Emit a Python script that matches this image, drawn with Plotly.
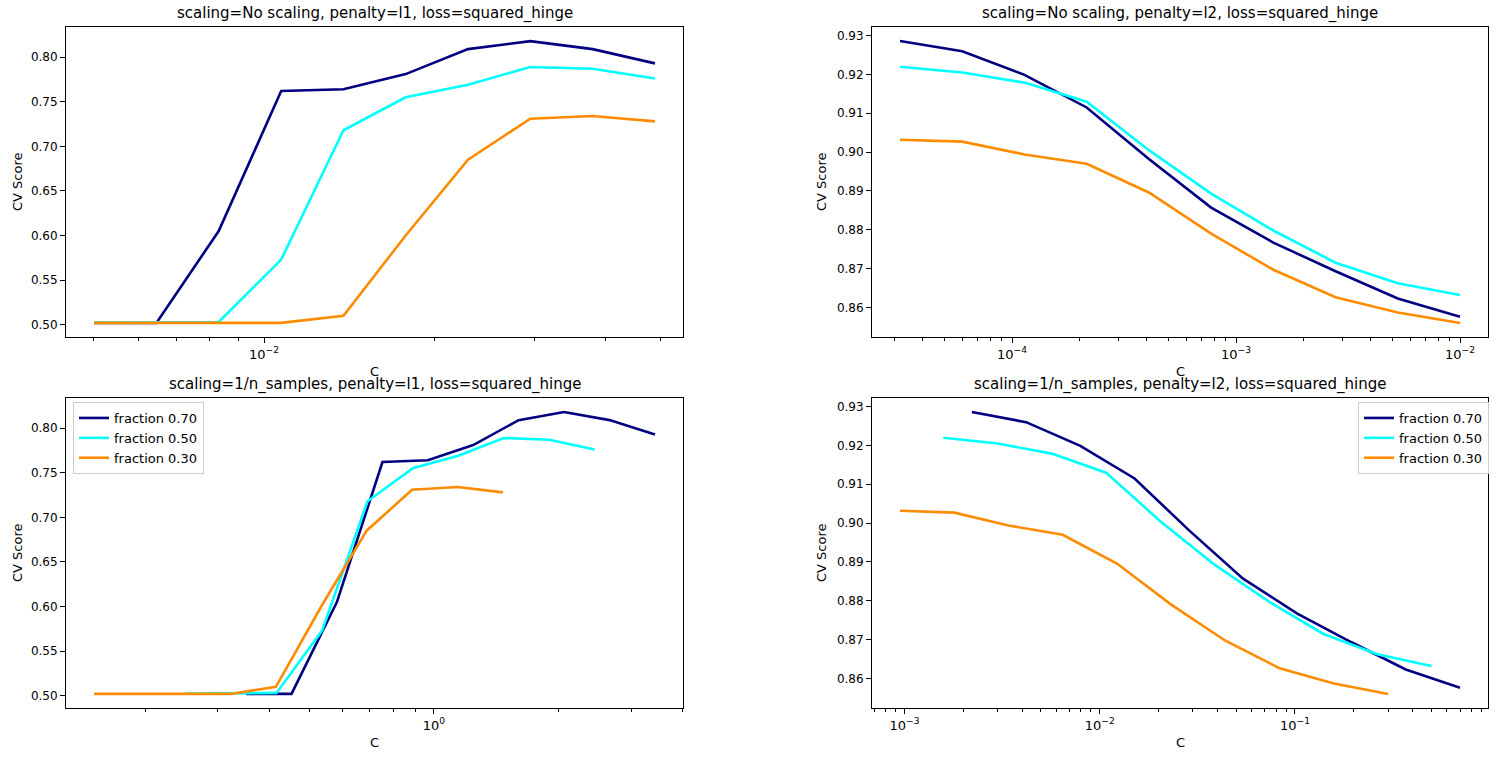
import math
import plotly.graph_objects as go

# ---- data ----
C_l1 = [0.005012, 0.006458, 0.008318, 0.010723, 0.013811, 0.017783, 0.022909, 0.029512, 0.038019, 0.048978]
C_l2 = [3.1623e-5, 5.9948e-5, 1.1365e-4, 2.1544e-4, 4.0842e-4, 7.7426e-4, 1.4678e-3, 2.7826e-3, 5.2749e-3, 1.0e-2]
fractions = [0.70, 0.50, 0.30]
n_samples = 100

score_l1_070 = [0.502, 0.502, 0.605, 0.762, 0.764, 0.781, 0.809, 0.818, 0.809, 0.793]
score_l1_050 = [0.5025, 0.5025, 0.503, 0.573, 0.718, 0.755, 0.769, 0.789, 0.787, 0.776]
score_l1_030 = [0.502, 0.502, 0.502, 0.502, 0.510, 0.600, 0.685, 0.731, 0.734, 0.728]

score_l2_070 = [0.9286, 0.9260, 0.9199, 0.9115, 0.8982, 0.8857, 0.8767, 0.8693, 0.8623, 0.8576]
score_l2_050 = [0.9220, 0.9205, 0.9179, 0.9130, 0.9005, 0.8893, 0.8798, 0.8715, 0.8662, 0.8632]
score_l2_030 = [0.9032, 0.9027, 0.8994, 0.8970, 0.8896, 0.8790, 0.8697, 0.8626, 0.8587, 0.8560]

colors = ["#000080", "#00ffff", "#ff8c00"]
labels = ["fraction 0.70", "fraction 0.50", "fraction 0.30"]

panels = [
    # (C list, scores, scaled?, penalty, row, col)
    (C_l1, [score_l1_070, score_l1_050, score_l1_030], False, "l1", 0, 0),
    (C_l2, [score_l2_070, score_l2_050, score_l2_030], False, "l2", 0, 1),
    (C_l1, [score_l1_070, score_l1_050, score_l1_030], True, "l1", 1, 0),
    (C_l2, [score_l2_070, score_l2_050, score_l2_030], True, "l2", 1, 1),
]

W, H = 1502, 757
xdom = [[66 / W, 683 / W], [872 / W, 1488 / W]]
ydom = [[1 - 337 / H, 1 - 27 / H], [1 - 708 / H, 1 - 398 / H]]

FONT = "DejaVu Sans"
fig = go.Figure()
annotations = []


def sup(n):
    return "10<sup>" + ("\u2212" + str(-n) if n < 0 else str(n)) + "</sup>"


for i, (Cs, scores, scaled, pen, r, c) in enumerate(panels):
    ax = "" if i == 0 else str(i + 1)
    xa, ya = "x" + ax, "y" + ax
    allx, ally = [], []
    for k, (frac, sc) in enumerate(zip(fractions, scores)):
        scale = n_samples * frac if scaled else 1.0
        xs = [v * scale for v in Cs]
        allx += xs
        ally += sc
        legend = None
        show = False
        if r == 1:
            show = True
            legend = "legend" if c == 0 else "legend2"
        tr = go.Scatter(x=xs, y=sc, mode="lines", name=labels[k],
                        line=dict(color=colors[k], width=2.6),
                        showlegend=show, xaxis=xa, yaxis=ya)
        if legend:
            tr.legend = legend
        fig.add_trace(tr)
    lx0, lx1 = math.log10(min(allx)), math.log10(max(allx))
    m = (lx1 - lx0) * 0.05
    xr = [lx0 - m, lx1 + m]
    y0, y1 = min(ally), max(ally)
    my = (y1 - y0) * 0.05
    yr = [y0 - my, y1 + my]
    majors, minors = [], []
    for p in range(math.floor(xr[0]) - 1, math.ceil(xr[1]) + 1):
        if xr[0] <= p <= xr[1]:
            majors.append(10.0 ** p)
        for kk in range(2, 10):
            v = kk * 10.0 ** p
            if xr[0] <= math.log10(v) <= xr[1]:
                minors.append(v)
    xaxis = dict(domain=xdom[c], anchor=ya, type="log", range=xr,
                 tickmode="array", tickvals=majors,
                 ticktext=[sup(round(math.log10(v))) for v in majors],
                 ticks="outside", ticklen=5, tickwidth=1, tickcolor="black",
                 minor=dict(tickvals=minors, ticks="outside", ticklen=3,
                            tickwidth=0.8, tickcolor="black", showgrid=False),
                 showgrid=False, zeroline=False, showline=True, mirror=True,
                 linecolor="black", linewidth=1,
                 tickfont=dict(family=FONT, size=13, color="black"))
    if pen == "l1":
        yt = [0.50, 0.55, 0.60, 0.65, 0.70, 0.75, 0.80]
    else:
        yt = [0.86, 0.87, 0.88, 0.89, 0.90, 0.91, 0.92, 0.93]
    yaxis = dict(domain=ydom[r], anchor=xa, range=yr, tickmode="array",
                 tickvals=yt, ticktext=["%.2f" % v for v in yt],
                 ticks="outside", ticklen=5, tickwidth=1, tickcolor="black",
                 showgrid=False, zeroline=False, showline=True, mirror=True,
                 linecolor="black", linewidth=1,
                 tickfont=dict(family=FONT, size=12, color="black"))
    fig.update_layout({"xaxis" + ax: xaxis, "yaxis" + ax: yaxis})

    cx = (xdom[c][0] + xdom[c][1]) / 2
    scaling = "1/n_samples" if scaled else "No scaling"
    annotations.append(dict(text=f"scaling={scaling}, penalty={pen}, loss=squared_hinge",
                            x=cx, y=ydom[r][1], xref="paper", yref="paper",
                            xanchor="center", yanchor="bottom", yshift=2, showarrow=False,
                            font=dict(family=FONT, size=15, color="black")))
    annotations.append(dict(text="C", x=cx, y=ydom[r][0], xref="paper", yref="paper",
                            xanchor="center", yanchor="top", yshift=-25, showarrow=False,
                            font=dict(family=FONT, size=13, color="black")))
    annotations.append(dict(text="CV Score", x=xdom[c][0], y=(ydom[r][0] + ydom[r][1]) / 2,
                            xref="paper", yref="paper", xanchor="center", yanchor="middle",
                            xshift=(-48 if c == 0 else -50), textangle=-90, showarrow=False,
                            font=dict(family=FONT, size=13, color="black")))

leg_common = dict(bgcolor="white", bordercolor="#cccccc", borderwidth=1,
                  font=dict(family=FONT, size=13, color="black"),
                  xanchor="left", yanchor="top", tracegroupgap=0, itemwidth=30)
fig.update_layout(
    width=W, height=H, margin=dict(l=0, r=0, t=0, b=0),
    paper_bgcolor="white", plot_bgcolor="white",
    annotations=annotations,
    legend=dict(x=73 / W, y=1 - 402 / H, **leg_common),
    legend2=dict(x=1358 / W, y=1 - 402 / H, **leg_common),
)

fig.write_html("out.html")
